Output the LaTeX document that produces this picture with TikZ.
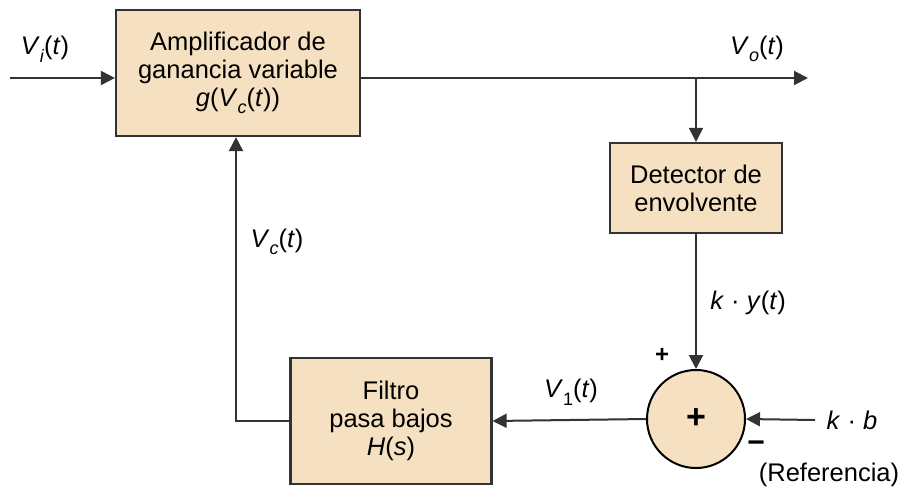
\documentclass[tikz,border=0pt]{standalone}
\usepackage{fontspec}
\setmainfont{Liberation Sans}
\usetikzlibrary{arrows.meta}

\definecolor{blocktan}{HTML}{F5E1C1}
\definecolor{lineg}{HTML}{333333}

\newcommand{\vi}[1]{\textit{#1}}
\newcommand{\sub}[1]{\raisebox{-0.3em}{\fontsize{18}{18}\selectfont #1}}

\begin{document}
\begin{tikzpicture}[x=1pt,y=-1pt,
  blk/.style={draw=lineg, line width=2.2pt, fill=blocktan, align=center, inner sep=0pt},
  wire/.style={draw=lineg, line width=2pt},
  arr/.style={wire, -{Triangle[length=14pt,width=14pt]}},
  lbl/.style={inner sep=0pt},
  font=\fontsize{25.5}{28}\selectfont]

\useasboundingbox (0,0) rectangle (901,493);

% Blocks
\node[blk, minimum width=244pt, minimum height=126pt] (amp) at (238,73)
  {Amplificador de\\ganancia variable\\\vi{g}(\vi{V}\sub{\vi{c}}(\vi{t}))};
\node[blk, minimum width=172pt, minimum height=90pt] (det) at (696,188)
  {Detector de\\envolvente};
\node[blk, minimum width=201pt, minimum height=126pt] (filt) at (391,421)
  {Filtro\\pasa bajos\\\vi{H}(\vi{s})};

% Summing junction
\node[blk, circle, draw=black, line width=2pt, minimum size=98pt,
  font=\fontsize{34}{34}\selectfont\bfseries] (sum) at (696,419) {+};

% Free ends
\coordinate (in) at (10,78);
\coordinate (out) at (808,78);
\coordinate (br) at (696,78);
\coordinate (ref) at (815,420);

% Connectors
\draw[arr] (in) -- (amp.west |- in);
\draw[arr] (amp.east |- out) -- (out);
\draw[arr] (br) -- (det.north);
\draw[arr] (det.south) -- (sum.north);
\draw[arr] (ref) -- (sum.east);
\draw[arr] (sum.west) -- (filt.east);
\draw[arr] (filt.west) -| ([xshift=-2pt]amp.south);

% Labels
\node[lbl] (lvi) at (45,49) {\vi{V}\sub{\vi{i}}(\vi{t})};
\node[lbl] (lvo) at (757,49) {\vi{V}\sub{\vi{o}}(\vi{t})};
\node[lbl] (lky) at (748,303) {\vi{k} · \vi{y}(\vi{t})};
\node[lbl] (lv1) at (571,392) {\vi{V}\sub{1}(\vi{t})};
\node[lbl] (lvc) at (277,242) {\vi{V}\sub{\vi{c}}(\vi{t})};
\node[lbl] (lkb) at (852,420) {\vi{k} · \vi{b}};
\node[lbl] (lref) at (829,475) {(Referencia)};
\node[lbl, font=\fontsize{24}{24}\selectfont\bfseries] (lplus) at (662,355) {+};
\node[lbl, font=\fontsize{30}{30}\selectfont\bfseries] (lminus) at (756,447) {−};

\end{tikzpicture}
\end{document}
